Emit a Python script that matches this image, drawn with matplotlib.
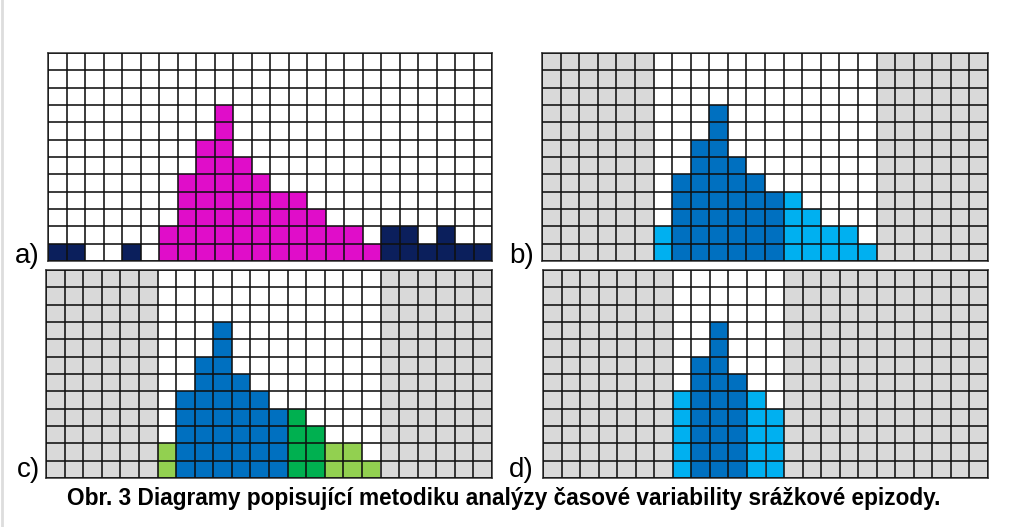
import numpy as np
import matplotlib.pyplot as plt

# 24 time steps, 12 intensity levels
n_cols = 24
n_rows = 12
cols = np.arange(n_cols)

# panel a) whole record: rain heights per time step
a_heights = [1, 1, 0, 0, 1, 0, 2, 5, 7, 9, 6, 5, 4, 4, 3, 2, 2, 1, 2, 2, 1, 2, 1, 1]
a_class = ['out'] * 6 + ['ep'] * 12 + ['out'] * 6

# panel b) episode only (steps 6..17)
b_cols = list(range(6, 18))
b_heights = [2, 5, 7, 9, 6, 5, 4, 4, 3, 2, 2, 1]
b_class = ['lo', 'hi', 'hi', 'hi', 'hi', 'hi', 'hi', 'lo', 'lo', 'lo', 'lo', 'lo']

# panel c) episode split into three parts
c_cols = list(range(6, 18))
c_heights = [2, 5, 7, 9, 6, 5, 4, 4, 3, 2, 2, 1]
c_class = ['lg', 'bl', 'bl', 'bl', 'bl', 'bl', 'bl', 'gr', 'gr', 'lg', 'lg', 'lg']

# panel d) core of the episode
d_cols = list(range(7, 13))
d_heights = [5, 7, 9, 6, 5, 4]
d_class = ['lo', 'hi', 'hi', 'hi', 'lo', 'lo']

colors = {
    'out': '#0B1F5C',
    'ep': '#E00DC9',
    'hi': '#0070C0',
    'lo': '#00B0F0',
    'bl': '#0070C0',
    'gr': '#00B050',
    'lg': '#92D050',
}
gray = '#D9D9D9'

W, H = 1024, 527
fig = plt.figure(figsize=(W / 100, H / 100), dpi=100)
fig.patch.set_facecolor('white')


def px_axes(x0, y0, x1, y1):
    return fig.add_axes([x0 / W, 1 - y1 / H, (x1 - x0) / W, (y1 - y0) / H])


def draw_panel(ax, bar_cols, heights, classes, active):
    # grey background outside the active window
    for c in cols:
        if c not in active:
            ax.bar(c, n_rows, width=1, align='edge', color=gray, linewidth=0)
    ax.bar(bar_cols, heights, width=1, align='edge',
           color=[colors[k] for k in classes], linewidth=0)
    ax.set_xlim(0, n_cols)
    ax.set_ylim(0, n_rows)
    ax.set_xticks(np.arange(n_cols + 1))
    ax.set_yticks(np.arange(n_rows + 1))
    ax.tick_params(length=0, labelbottom=False, labelleft=False)
    ax.grid(True, color='#101010', linewidth=1.15)
    ax.set_axisbelow(False)
    for s in ax.spines.values():
        s.set_color('#333333')
        s.set_linewidth(1.1)


ax_a = px_axes(48, 53, 492, 261)
draw_panel(ax_a, cols, a_heights, a_class, set(cols))

ax_b = px_axes(542, 53, 988, 261)
draw_panel(ax_b, b_cols, b_heights, b_class, set(range(6, 18)))

ax_c = px_axes(46, 270, 492, 478)
draw_panel(ax_c, c_cols, c_heights, c_class, set(range(6, 18)))

ax_d = px_axes(543, 270, 988, 478)
draw_panel(ax_d, d_cols, d_heights, d_class, set(range(7, 13)))

lab_font = dict(fontsize=20, family='Liberation Sans', ha='right', va='baseline')
fig.text(40 / W, 1 - 263 / H, 'a)', **lab_font)
fig.text(534 / W, 1 - 263 / H, 'b)', **lab_font)
fig.text(40 / W, 1 - 477 / H, 'c)', **lab_font)
fig.text(534 / W, 1 - 477 / H, 'd)', **lab_font)

fig.text(504 / W, 1 - 505 / H,
         'Obr. 3 Diagramy popisující metodiku analýzy časové variability srážkové epizody.',
         fontsize=16.3, fontweight='bold', family='Liberation Sans',
         ha='center', va='baseline')

# thin grey frame line on the left edge
fig.add_artist(plt.Line2D([1.5 / W, 1.5 / W], [0, 1], color='#DDDDDD', linewidth=2))

fig.savefig('out.png', dpi=100)
